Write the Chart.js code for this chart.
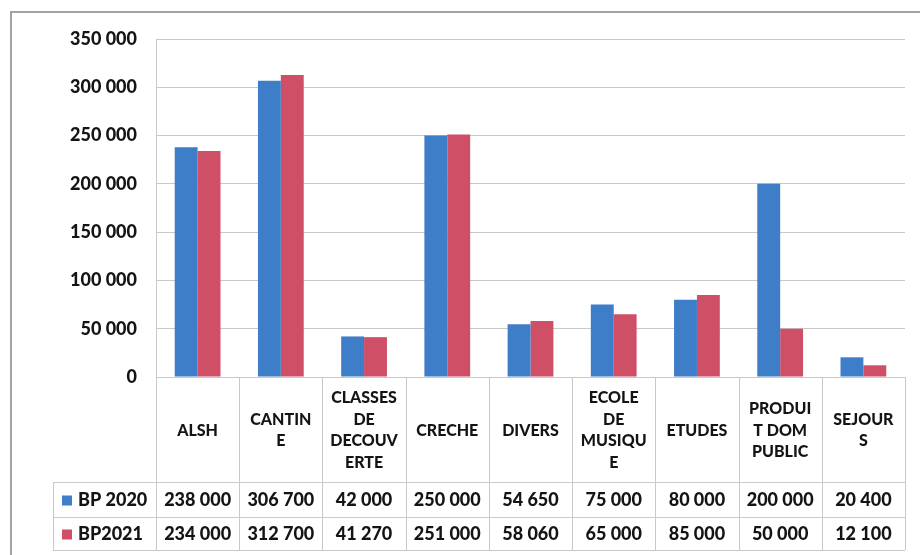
<!DOCTYPE html>
<html>
<head>
<meta charset="utf-8">
<title>BP 2020 / BP2021</title>
<script src="https://cdn.jsdelivr.net/npm/chart.js@4.4.1/dist/chart.umd.min.js"></script>
<style>
  html, body { margin: 0; padding: 0; background: #fff; }
  #wrap { width: 920px; height: 555px; }
</style>
</head>
<body>
<div id="wrap"><canvas id="budget" width="920" height="555"></canvas></div>
<script>
// categories (line breaks as in the table header)
const categories = [
  ['ALSH'],
  ['CANTIN', 'E'],
  ['CLASSES', 'DE', 'DECOUV', 'ERTE'],
  ['CRECHE'],
  ['DIVERS'],
  ['ECOLE', 'DE', 'MUSIQU', 'E'],
  ['ETUDES'],
  ['PRODUI', 'T DOM', 'PUBLIC'],
  ['SEJOUR', 'S']
];
const bp2020 = [238000, 306700, 42000, 250000, 54650, 75000, 80000, 200000, 20400];
const bp2021 = [234000, 312700, 41270, 251000, 58060, 65000, 85000, 50000, 12100];
const seriesNames = ['BP 2020', 'BP2021'];
const yTicks = [0, 50000, 100000, 150000, 200000, 250000, 300000, 350000];

const BLUE = '#3e7dc8';
const RED = '#cf4f67';
const GRID = '#c9c9c9';
const INK = '#141414';
const FONT = 'Lato, "Open Sans", sans-serif';

function fmt(n) {
  return String(n).replace(/\B(?=(\d{3})+(?!\d))/g, ' ');
}

// outer frame + data table under the plot
const tablePlugin = {
  id: 'dataTable',
  beforeDraw(chart) {
    const ctx = chart.ctx;
    ctx.save();
    ctx.strokeStyle = '#a3a3a3';
    ctx.lineWidth = 2;
    ctx.strokeRect(11, 12, 930, 570);
    ctx.restore();
  },
  afterDraw(chart) {
    const ctx = chart.ctx;
    const x = chart.scales.x;
    const area = chart.chartArea;
    const half = (x.getPixelForTick(1) - x.getPixelForTick(0)) / 2;
    const top = area.bottom;
    const row1 = 482, row2 = 517, bottom = 550;
    const legLeft = 53;

    ctx.save();
    ctx.strokeStyle = GRID;
    ctx.lineWidth = 1;
    ctx.beginPath();
    // vertical cell borders
    for (let i = 0; i <= categories.length; i++) {
      const px = Math.round(area.left + i * half * 2) + 0.5;
      ctx.moveTo(px, top);
      ctx.lineTo(px, bottom);
    }
    ctx.moveTo(legLeft + 0.5, row1);
    ctx.lineTo(legLeft + 0.5, bottom);
    // horizontal rows
    [row1, row2, bottom].forEach(y => {
      ctx.moveTo(legLeft, y + 0.5);
      ctx.lineTo(area.right, y + 0.5);
    });
    ctx.stroke();

    ctx.fillStyle = INK;
    ctx.textAlign = 'center';
    ctx.textBaseline = 'middle';

    // header labels
    ctx.font = '900 16px ' + FONT;
    const lh = 21.5;
    categories.forEach((lines, i) => {
      const cx = x.getPixelForTick(i);
      const mid = (top + row1) / 2 + 1;
      const y0 = mid - (lines.length - 1) * lh / 2;
      lines.forEach((t, k) => ctx.fillText(t, cx, y0 + k * lh));
    });

    // values
    ctx.font = '900 18px ' + FONT;
    [bp2020, bp2021].forEach((vals, r) => {
      const cy = (r === 0 ? (row1 + row2) : (row2 + bottom)) / 2 + 1;
      vals.forEach((v, i) => ctx.fillText(fmt(v), x.getPixelForTick(i), cy));
      // legend key
      ctx.fillStyle = r === 0 ? BLUE : RED;
      ctx.fillRect(62, cy - 5, 10, 10);
      ctx.fillStyle = INK;
      ctx.textAlign = 'left';
      ctx.fillText(seriesNames[r], 78, cy);
      ctx.textAlign = 'center';
    });
    ctx.restore();
  }
};

new Chart(document.getElementById('budget'), {
  type: 'bar',
  data: {
    labels: categories,
    datasets: [
      { label: seriesNames[0], data: bp2020, backgroundColor: BLUE },
      { label: seriesNames[1], data: bp2021, backgroundColor: RED }
    ]
  },
  options: {
    responsive: false,
    animation: false,
    events: [],
    layout: { padding: { top: 39, right: 15, bottom: 170, left: 0 } },
    datasets: { bar: { categoryPercentage: 0.55, barPercentage: 1 } },
    plugins: {
      legend: { display: false },
      tooltip: { enabled: false }
    },
    scales: {
      x: {
        ticks: { display: false },
        grid: { display: false },
        border: { display: true, color: GRID }
      },
      y: {
        min: 0,
        max: 350000,
        afterFit(axis) { axis.width = 156; },
        afterBuildTicks(axis) { axis.ticks = yTicks.map(v => ({ value: v })); },
        ticks: {
          padding: 19,
          color: INK,
          font: { family: FONT, size: 18, weight: '900' },
          callback: v => fmt(v)
        },
        grid: { color: GRID, drawTicks: false },
        border: { display: true, color: GRID }
      }
    }
  },
  plugins: [tablePlugin]
});
</script>
</body>
</html>
